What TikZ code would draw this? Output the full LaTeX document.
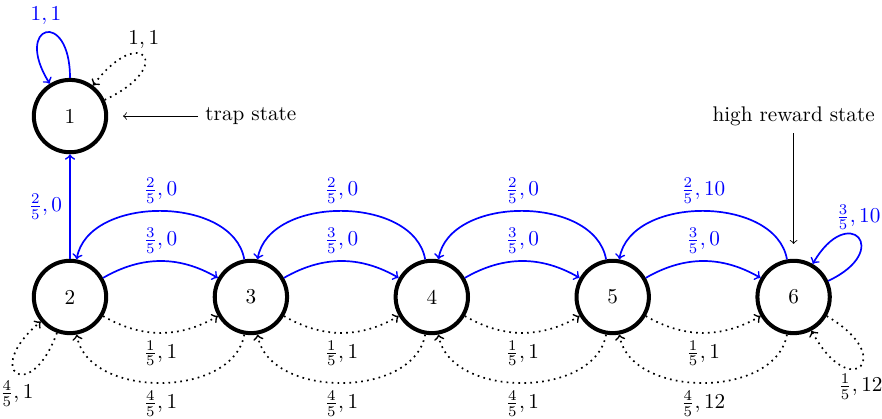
\documentclass[tikz,border=0pt]{standalone}
\begin{document}
\begin{tikzpicture}[
  state/.style={circle, draw, line width=1.9pt, minimum size=1.2cm, inner sep=0pt},
  act/.style={->, blue, thick},
  rnd/.style={->, black, thick, dotted},
  blbl/.style={text=blue},
  note/.style={->, shorten >=7pt},
  lp/.style={looseness=8, min distance=5mm}
]
\useasboundingbox (-1.161,-2.023) rectangle (13.466,4.925);
\node[state] (n1) at (0,3) {1};
\node[state] (n2) at (0,0) {2};
\node[state] (n3) at (3,0) {3};
\node[state] (n4) at (6,0) {4};
\node[state] (n5) at (9,0) {5};
\node[state] (n6) at (12,0) {6};
\node (trap) at (3,3) {trap state};
\node (high) at (12,3) {high reward state};
\draw[note] (trap) -- (n1);
\draw[note] (high) -- (n6);
% node 1 loops
\draw[act] (n1) to[lp, looseness=8.5, out=90, in=122] node[above, blbl] {$1,1$} (n1);
\draw[rnd] (n1) to[lp, looseness=11, out=25, in=53] node[above] {$1,1$} (n1);
% 2 -> 1
\draw[act] (n2) -- node[left, blbl] {$\frac{2}{5},0$} (n1);
% node 2 loop
\draw[rnd] (n2) to[lp, looseness=10, out=-110, in=-140] node[below] {$\frac{4}{5},1$} (n2);
% node 6 loops
\draw[act] (n6) to[lp, out=25, in=60] node[above] {\color{blue}$\frac{3}{5},10$} (n6);
\draw[rnd] (n6) to[lp, looseness=10, out=-30, in=-62] node[below] {$\frac{1}{5},12$} (n6);
% forward blue
\draw[act] (n2) to[bend left=30] node[above, blbl] {$\frac{3}{5},0$} (n3);
\draw[act] (n3) to[bend left=30] node[above, blbl] {$\frac{3}{5},0$} (n4);
\draw[act] (n4) to[bend left=30] node[above, blbl] {$\frac{3}{5},0$} (n5);
\draw[act] (n5) to[bend left=30] node[above, blbl] {$\frac{3}{5},0$} (n6);
% backward blue
\draw[act] (n3) to[out=100, in=80] node[above, blbl] {$\frac{2}{5},0$} (n2);
\draw[act] (n4) to[out=100, in=80] node[above, blbl] {$\frac{2}{5},0$} (n3);
\draw[act] (n5) to[out=100, in=80] node[above, blbl] {$\frac{2}{5},0$} (n4);
\draw[act] (n6) to[out=100, in=80] node[above, blbl] {$\frac{2}{5},10$} (n5);
% forward dotted
\draw[rnd] (n2) to[bend right=30] node[below] {$\frac{1}{5},1$} (n3);
\draw[rnd] (n3) to[bend right=30] node[below] {$\frac{1}{5},1$} (n4);
\draw[rnd] (n4) to[bend right=30] node[below] {$\frac{1}{5},1$} (n5);
\draw[rnd] (n5) to[bend right=30] node[below] {$\frac{1}{5},1$} (n6);
% backward dotted
\draw[rnd] (n3) to[out=-100, in=-80] node[below] {$\frac{4}{5},1$} (n2);
\draw[rnd] (n4) to[out=-100, in=-80] node[below] {$\frac{4}{5},1$} (n3);
\draw[rnd] (n5) to[out=-100, in=-80] node[below] {$\frac{4}{5},1$} (n4);
\draw[rnd] (n6) to[out=-100, in=-80] node[below] {$\frac{4}{5},12$} (n5);
\end{tikzpicture}
\end{document}
